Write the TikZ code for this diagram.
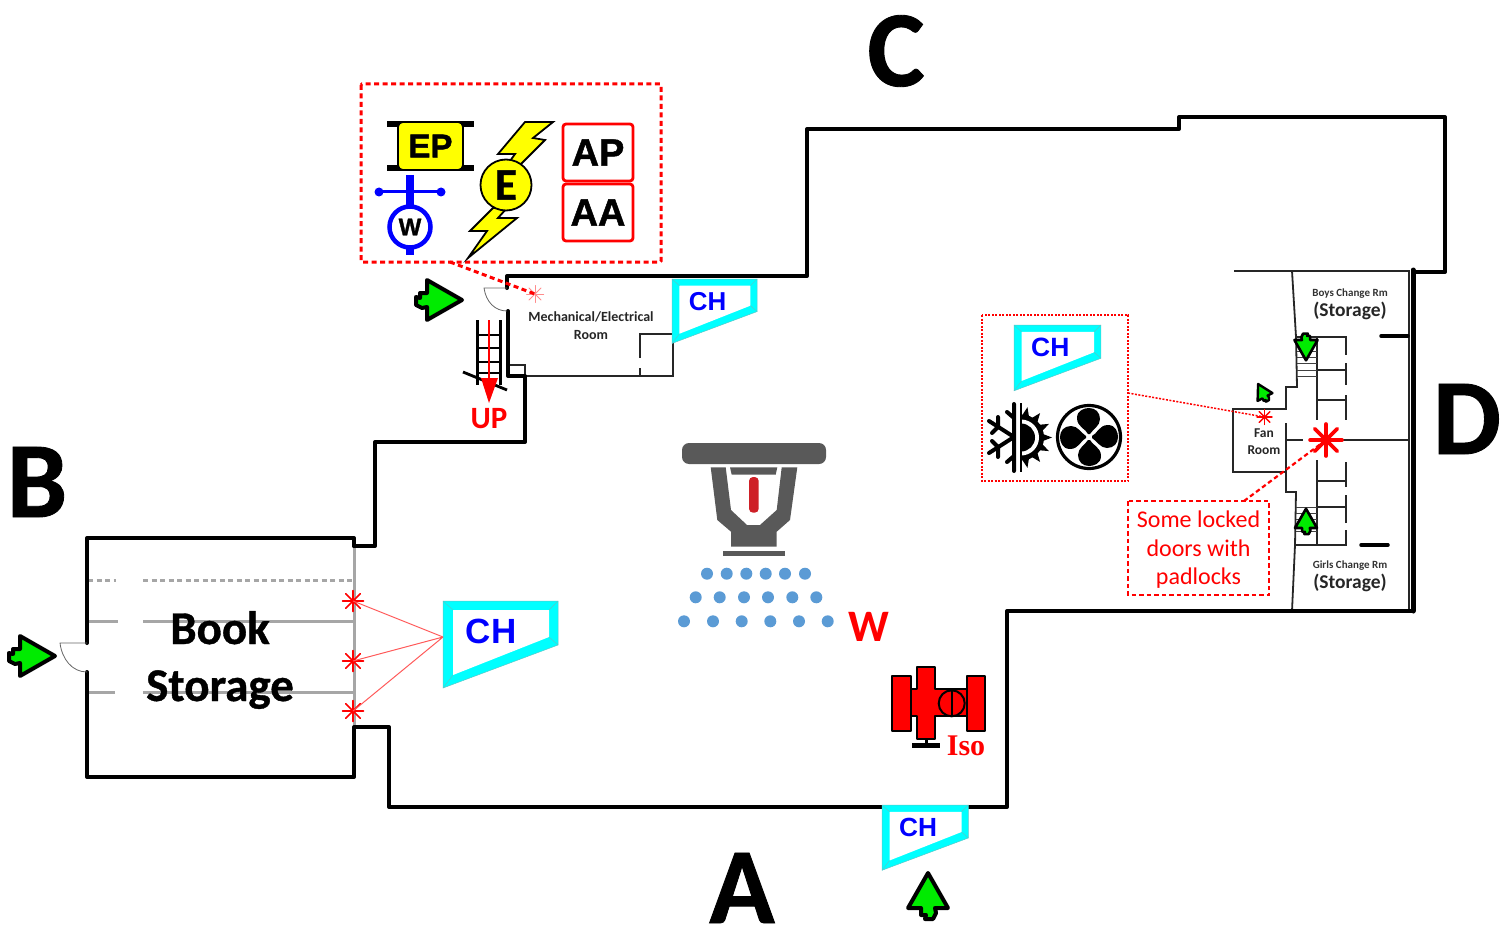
\documentclass[tikz,border=0pt]{standalone}
\usepackage{fontspec}
\setmainfont{Carlito}
\newfontfamily\arialf{Liberation Sans}
\newfontfamily\arialh[BoldFeatures={FakeBold=1.2}]{Liberation Sans}
\newfontfamily\carlh[BoldFeatures={FakeBold=0.8}]{Carlito}
\newfontfamily\timesf{Liberation Serif}
\newcommand\fz[2]{\fontsize{#1}{#2}\selectfont}
\definecolor{grnc}{RGB}{0,235,0}
\definecolor{cyanc}{RGB}{0,255,255}
\definecolor{bevel}{RGB}{90,200,200}
\definecolor{wallg}{RGB}{166,166,166}
\definecolor{sprg}{RGB}{89,89,89}
\definecolor{sprr}{RGB}{206,32,39}
\definecolor{dropb}{RGB}{91,155,213}
\definecolor{yel}{RGB}{255,255,0}
\definecolor{lightr}{RGB}{255,140,140}
\definecolor{softr}{RGB}{255,90,90}
\tikzset{
  wall/.style={line width=4pt,line join=round,line cap=round,black},
  thinw/.style={line width=1.8pt,line join=miter,black!85},
  shelf/.style={line width=3pt,wallg},
  doorw/.style={line width=.8pt,black!60},
  lab/.style={inner sep=0pt,outer sep=0pt,align=center},
  corner/.style={lab,font=\carlh\bfseries\fz{108}{108}},
  dotbox/.style={red,line width=1.5pt,dash pattern=on 2pt off 1.5pt},
  dashbox/.style={red,line width=2.2pt,dash pattern=on 4.5pt off 3pt},
  bigdash/.style={red,line width=3pt,dash pattern=on 5pt off 3.5pt},
  arrowg/.style={fill=grnc,draw=black,line join=round},
  redbox/.style={draw=red,line width=2.8pt,rounded corners=3pt,fill=white,inner sep=0pt},
  drop/.style={fill=dropb},
  ruleb/.style={line width=3.5pt,black,line cap=round}
}
% star: name, x, y, radius, width, colour
\newcommand\rstar[6]{%
  \coordinate (#1) at (#2,#3);
  \foreach \a in {0,45,90,135}{
    \draw[#6,line width=#5pt,line cap=round,shift={(#1)}] (\a:#4pt) -- (\a+180:#4pt);}
}
% green arrow: x, y of base centre, rotation, scale, outline width
\newcommand\garrow[5]{%
  \begin{scope}[shift={(#1,#2)},rotate=#3,scale=#4]
    \draw[arrowg,line width=#5pt] (0,-20) -- (35,0) -- (0,20) -- (0,7) -- (-5,8) -- (-11,5) -- (-11,-3) -- (-7,-2)
       -- (-7,-7) -- (0,-7) -- cycle;
  \end{scope}}
% chemical hatch symbol: name, x, y, scale
\newcommand\chsym[4]{%
  \begin{scope}[shift={(#2,#3)},scale=#4]
    \fill[cyanc] (0,0) -- (115,0) -- (115,44) -- (0,87) -- cycle;
    \fill[white] (10,9) -- (106,9) -- (106,36) -- (10,74) -- cycle;
    \draw[bevel,line width=.5pt] (0,0) -- (10,9) (115,0) -- (106,9) (115,44) -- (106,36) (0,87) -- (10,74);
    \draw[bevel,line width=.5pt] (0,0) -- (115,0) -- (115,44) -- (0,87) -- cycle;
    \coordinate (#1w) at (0,36);
    \node[lab,blue,font=\arialf\bfseries\fz{35}{35},scale=#4] (#1) at (48,30) {CH};
  \end{scope}}
\begin{document}
\begin{tikzpicture}[x=1pt,y=-1pt]
\useasboundingbox (0,0) rectangle (1509,928);

% ---------- corner letters
\node[corner] (letC) at (896,51) {C};
\node[corner] (letB) at (37,482) {B};
\node[corner] (letA) at (742,888) {A};
\node[corner] (letD) at (1467,419) {D};

% ---------- thin interior walls
\draw[thinw] (525,376) -- (673,376) -- (673,334) -- (640,334) -- (640,358);
\draw[thinw] (640,368) -- (640,376);
\draw[thinw] (508,365) -- (525,365) -- (525,376);
\draw[thinw] (1234,271) -- (1410,271);
\draw[thinw] (1409,271) -- (1409,611);
\draw[thinw] (1292,271) -- (1296,337) -- (1297,387) -- (1286,387) -- (1286,409) -- (1233,409) -- (1233,472) -- (1286,472);
\draw[thinw] (1286,423) -- (1286,492) -- (1296,492) -- (1295,545) -- (1292,611);
\draw[thinw] (1295,337) -- (1346,337) -- (1346,355);
\draw[thinw] (1346,363) -- (1346,385) (1346,395) -- (1346,420);
\draw[thinw] (1317,337) -- (1317,420) (1317,460) -- (1317,545);
\draw[thinw] (1317,370) -- (1346,370) (1317,400) -- (1346,400) (1317,481) -- (1346,481) (1317,507) -- (1346,507);
\draw[thinw] (1295,545) -- (1346,545) -- (1346,530);
\draw[thinw] (1346,523) -- (1346,495) (1346,487) -- (1346,462);
\draw[thinw] (1286,440) -- (1303,440) (1343,440) -- (1410,440);
% stair treads
\foreach \yy in {345,351,357,363,370,376}{\draw[black!75,line width=.8pt] (1297,\yy) -- (1317,\yy);}
\foreach \yy in {507,513,519,525,531}{\draw[black!75,line width=.8pt] (1296,\yy) -- (1317,\yy);}
\draw[ruleb] (1381,336) -- (1408,336);
\draw[ruleb] (1361,545) -- (1388,545);

% ---------- book storage shelves
\draw[shelf,dash pattern=on 5pt off 3.5pt] (88,580) -- (116,580) (143,580) -- (353,580);
\draw[shelf] (88,621) -- (118,621) (143,621) -- (353,621);
\draw[shelf] (88,692) -- (115,692) (143,692) -- (353,692);
\draw[shelf] (354,546) -- (354,727);

% ---------- heavy outer walls
\draw[wall] (507,288) -- (507,276) -- (807,276) -- (807,129) -- (1179,129) -- (1179,117) -- (1445,117) -- (1445,272) -- (1413,272);
\draw[wall,line width=5pt] (1413,270) -- (1413,611);
\draw[wall] (1413,611) -- (1007,611) -- (1007,807) -- (389,807) -- (389,727) -- (354,727) -- (354,777) -- (87,777) -- (87,672);
\draw[wall] (87,643) -- (87,538) -- (354,538) -- (354,546);
\draw[wall] (354,546) -- (375,546) -- (375,442) -- (525,442) -- (525,376) -- (508,376) -- (508,311);

% ---------- doors
\draw[doorw] (87,643) -- (60,643) .. controls (62,659) and (72,672) .. (87,672);
\draw[doorw] (507,288) -- (484,288) .. controls (486,302) and (495,311) .. (507,311);

% ---------- room labels
\node[lab,text=black!85,font=\bfseries\fz{14}{18}] (mech) at (591,326) {Mechanical/Electrical\\Room};
\node[lab,text=black!85,font=\bfseries\fz{13.5}{17}] (fan) at (1264,441.5) {Fan\\Room};
\node[lab,text=black!80,font=\bfseries\fz{11}{12}] (boys) at (1350,293.5) {Boys Change Rm};
\node[lab,text=black!85,font=\bfseries\fz{19.5}{20}] (boysS) at (1350,310.5) {(Storage)};
\node[lab,text=black!80,font=\bfseries\fz{11}{12}] (girls) at (1350,565.5) {Girls Change Rm};
\node[lab,text=black!85,font=\bfseries\fz{19.5}{20}] (girlsS) at (1350,582.5) {(Storage)};
\node[lab,font=\carlh\bfseries\fz{47}{57}] (book) at (220,660) {Book\\Storage};

% ---------- stairs
\draw[line width=3pt,black] (477,320) -- (477,385) (500,320) -- (500,385);
\foreach \yy in {335,348,362,373}{\draw[line width=2.2pt,black] (477,\yy) -- (500,\yy);}
\draw[line width=2.8pt,black] (463,372) -- (507,390);
\coordinate (upA) at (489,320);
\coordinate (upB) at (489,380);
\draw[red,line width=1.3pt] (upA) -- (upB);
\fill[red] (481,378) -- (498,378) -- (489,403) -- cycle;
\node[lab,red,font=\bfseries\fz{31}{31}] (up) at (489,419) {UP};

% ---------- CH symbols
\chsym{chA}{443}{601}{1}
\chsym{chB}{672}{279}{.74}
\chsym{chC}{1014}{325}{.756}
\chsym{chD}{882}{805}{.75}

% ---------- stars and connectors, book storage
\rstar{s1}{353}{601}{10.5}{1.5}{red}
\rstar{s2}{353}{661}{10.5}{1.5}{red}
\rstar{s3}{353}{711}{10.5}{1.5}{red}
\draw[softr,line width=1pt] (chAw) -- (s1) (chAw) -- (s2) (chAw) -- (s3);

% ---------- top dashed box
\draw[bigdash,rounded corners=1pt] (361,84) rectangle (661,262);
\coordinate (boxT) at (450,262);
\rstar{sM}{535}{294}{8.5}{1}{lightr}
\draw[bigdash] (boxT) -- (sM);
% EP
\foreach \yy in {124,168}{\draw[black,line width=5.5pt] (387,\yy) -- (474,\yy);}
\node[draw=black,line width=1.6pt,rounded corners=5pt,fill=yel,minimum width=65pt,minimum height=48pt,inner sep=0pt,font=\arialh\bfseries\fz{33}{33}] (ep) at (430.5,146) {EP};
% valve W
\draw[blue,line width=8pt] (410,175) -- (410,207);
\draw[blue,line width=8pt] (410,246) -- (410,255);
\draw[blue,line width=3pt] (379,192) -- (441,192);
\fill[blue] (379,192) circle[radius=4.5pt] (441,192) circle[radius=4.5pt];
\node[circle,draw=blue,line width=4.5pt,fill=white,minimum size=41pt,inner sep=0pt,font=\arialh\bfseries\fz{24}{24}] (wv) at (410,227) {W};
% lightning
\draw[fill=yel,draw=black,line width=1.8pt,line join=miter] (525,122) -- (553,122) -- (533,138) -- (545,140) -- (520,165) -- (510,161) -- (515,154) -- (498,154) -- cycle;
\draw[fill=yel,draw=black,line width=1.8pt,line join=miter] (493,208) -- (470,231) -- (487,231) -- (468,258) -- (517,218) -- (498,218) -- (507,208) -- cycle;
\node[circle,draw=black,line width=1.8pt,fill=yel,minimum size=51pt,inner sep=0pt,font=\carlh\bfseries\fz{45}{45}] (el) at (506,185) {E};
% AP AA
\node[redbox,minimum width=70pt,minimum height=57pt,font=\arialh\bfseries\fz{38}{38}] (ap) at (598,152.5) {AP};
\node[redbox,minimum width=70pt,minimum height=57pt,font=\arialh\bfseries\fz{38}{38}] (aa) at (598,212.5) {AA};

% ---------- right dotted box
\draw[dotbox] (982,315) rectangle (1128,481);
\coordinate (boxR) at (1128,393);
\rstar{sF}{1264.5}{417}{7.5}{1.4}{red}
\draw[dotbox] (boxR) -- (sF);
% climate icon
\coordinate (sunC) at (1021,437.5);
\fill[black] (sunC) ++(90:23pt) arc[start angle=90,end angle=-90,radius=23pt] -- cycle;
\foreach \a in {-78,-52,-26,0,26,52,78}{
  \fill[black,shift={(sunC)}] (\a-11:21pt) -- (\a:31pt) -- (\a+11:21pt) -- cycle;}
\fill[white] (sunC) ++(90:18pt) arc[start angle=90,end angle=-90,radius=18pt] -- cycle;
\fill[black] (sunC) ++(90:14pt) arc[start angle=90,end angle=-90,radius=14pt] -- cycle;
\fill[white] (1017,400) rectangle (1020,475);
\draw[black,line width=2.5pt] (1021,403) -- (1021,472);
\draw[black,line width=4pt,line cap=round] (1014,404) -- (1014,471)
  (1014,437) -- (989,421) (1014,437) -- (989,453)
  (998,427) -- (998,417) (998,427) -- (992,433)
  (998,447) -- (998,457) (998,447) -- (992,441)
  (1007,412) -- (1014,418) (1007,462) -- (1014,456);
% fan
\coordinate (fanC) at (1089,437);
\draw[black,line width=3.2pt] (fanC) circle[radius=31.5pt];
\foreach \r in {0,90,180,270}{
  \fill[black,shift={(fanC)},rotate=\r] (3,-1) .. controls (8,-3) and (10,-12) .. (19,-12)
     .. controls (27,-12) and (29,-4) .. (29,0) .. controls (29,6) and (25,11) .. (18,11)
     .. controls (11,11) and (8,4) .. (3,1) -- cycle;}

% ---------- locked-door note
\rstar{sB}{1326}{440}{16}{3.6}{red}
\node[lab,text=red,font=\fz{24}{28.5},minimum width=141pt,minimum height=94pt] (lock) at (1198.5,550) {Some locked\\doors with\\padlocks};
\draw[dashbox] (1128,501) rectangle (1269,595);
\coordinate (lockT) at (1244,501);
\draw[dashbox] (lockT) -- (sB);

% ---------- sprinkler
\fill[sprg,rounded corners=7pt] (682,443) rectangle (826,464);
\fill[sprg] (710.7,467.3) -- (725.7,467.3) -- (731,510) -- (747,525) -- (760,525) -- (776.7,510) -- (781.7,467.3) -- (797.3,467.3) -- (790,520) -- (776.7,531.7) -- (776.7,546.7) -- (731,546.7) -- (731,531.7) -- (717.3,520) -- cycle;
\fill[sprg] (730,467.3) -- (777.3,467.3) -- (775.7,474.7) -- (731.7,474.7) -- cycle;
\fill[sprr,rounded corners=4pt] (749,477) -- (758.7,477) -- (758.7,512.7) -- (749,512.7) -- cycle;
\fill[sprg] (722.7,550.7) rectangle (785,556);
\foreach \xx in {707,726.7,746.3,765.7,785,805}{\fill[drop] (\xx,573.7) circle[radius=6pt];}
\foreach \xx in {695.7,719.7,744,768,792.3,816.3}{\fill[drop] (\xx,597.3) circle[radius=6pt];}
\foreach \xx in {684,713,741.7,770.3,799,827.7}{\fill[drop] (\xx,621.3) circle[radius=6pt];}
\node[lab,red,font=\bfseries\fz{45}{45}] (wl) at (869,627) {W};

% ---------- isolation valve
\begin{scope}[draw=black,line width=2pt,line join=round]
  \fill[black] (925,739) rectangle (928,744);
  \filldraw[fill=red] (892.3,676) rectangle (910.7,731);
  \filldraw[fill=red] (966.7,676) rectangle (985,731);
  \filldraw[fill=red] (910.7,689.3) -- (917.3,689.3) -- (917.3,667.3) -- (935,667.3) -- (935,689.3) -- (966.7,689.3) -- (966.7,716) -- (935,716) -- (935,739.3) -- (917.3,739.3) -- (917.3,716) -- (910.7,716) -- cycle;
  \filldraw[fill=red] (951.7,703.3) circle[radius=13pt];
  \draw (951.7,690.3) -- (951.7,716.3);
  \fill[black] (911.7,742.7) rectangle (940,748.3);
\end{scope}
\node[lab,red,font=\timesf\bfseries\fz{30}{30}] (iso) at (966,746) {Iso};

% ---------- green arrows
\garrow{427}{300}{0}{1}{4}
\garrow{20}{656}{0}{1}{4}
\garrow{928}{908}{90}{1}{4}
\garrow{1306}{340}{-90}{.58}{2.6}
\garrow{1306}{528}{90}{.55}{2.6}
\garrow{1265}{397}{118}{.42}{2.4}
\end{tikzpicture}
\end{document}
